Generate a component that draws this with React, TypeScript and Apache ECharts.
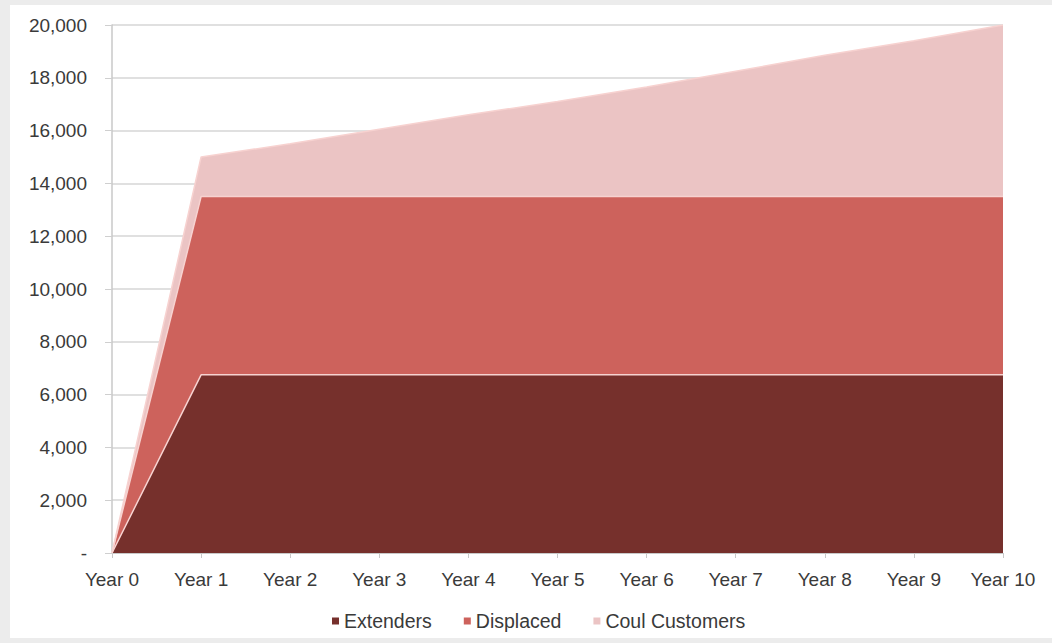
import React, { useEffect, useRef } from "react";
import * as echarts from "echarts";

// Years on the horizontal axis
const years = [
  "Year 0", "Year 1", "Year 2", "Year 3", "Year 4", "Year 5",
  "Year 6", "Year 7", "Year 8", "Year 9", "Year 10",
];

// Customer counts per segment (stacked)
const extenders = [0, 6750, 6750, 6750, 6750, 6750, 6750, 6750, 6750, 6750, 6750];
const displaced = [0, 6750, 6750, 6750, 6750, 6750, 6750, 6750, 6750, 6750, 6750];
const coulCustomers = [0, 1500, 2000, 2550, 3100, 3600, 4150, 4750, 5350, 5900, 6500];

const seriesNames = ["Extenders", "Displaced", "Coul Customers"];
const seriesColors = ["#76302c", "#cd625c", "#ebc4c4"];

const FONT = "'Liberation Sans', Arial, Helvetica, sans-serif";

export default function App() {
  const ref = useRef<HTMLDivElement>(null);

  useEffect(() => {
    if (!ref.current) return;
    const chart = echarts.init(ref.current, undefined, { renderer: "svg" });
    const values = [extenders, displaced, coulCustomers];

    chart.setOption({
      animation: false,
      backgroundColor: "#ffffff",
      textStyle: { fontFamily: FONT },
      grid: { left: 102, right: 49, top: 20, bottom: 85, containLabel: false },
      legend: {
        top: 601,
        left: 317,
        icon: "rect",
        itemWidth: 7,
        itemHeight: 7,
        itemGap: 32,
        textStyle: { fontSize: 19.5, color: "#3a3a3a", fontFamily: FONT },
        data: seriesNames,
      },
      xAxis: {
        type: "category",
        data: years,
        boundaryGap: false,
        axisLine: { show: true, lineStyle: { color: "#c8c8c8", width: 1 } },
        axisTick: { show: true, length: 5, lineStyle: { color: "#c8c8c8" } },
        axisLabel: { color: "#3a3a3a", fontSize: 19, margin: 17, fontFamily: FONT },
        splitLine: { show: false },
      },
      yAxis: {
        type: "value",
        min: 0,
        max: 20000,
        interval: 2000,
        axisLine: { show: true, lineStyle: { color: "#c8c8c8", width: 1.5 } },
        axisTick: { show: true, length: 7, lineStyle: { color: "#cfcfcf" } },
        axisLabel: {
          color: "#3a3a3a",
          fontSize: 19,
          margin: 25,
          fontFamily: FONT,
          formatter: (v: number) => (v === 0 ? "-" : v.toLocaleString("en-US")),
        },
        splitLine: { show: true, lineStyle: { color: "#d6d6d6", width: 1.5 } },
      },
      series: seriesNames.map((name, i) => ({
        name,
        type: "line",
        stack: "total",
        data: values[i],
        symbol: "none",
        color: seriesColors[i],
        lineStyle: { color: "#f7d2d0", width: 1.5 },
        areaStyle: { color: seriesColors[i], opacity: 1 },
        z: 3,
      })),
    });

    return () => chart.dispose();
  }, []);

  return (
    <div
      style={{
        position: "absolute",
        left: 0,
        top: 0,
        width: 1052,
        height: 643,
        background: "#ececec",
      }}
    >
      <div
        ref={ref}
        style={{
          position: "absolute",
          left: 10,
          top: 5,
          width: 1042,
          height: 633,
          background: "#ffffff",
        }}
      />
    </div>
  );
}
